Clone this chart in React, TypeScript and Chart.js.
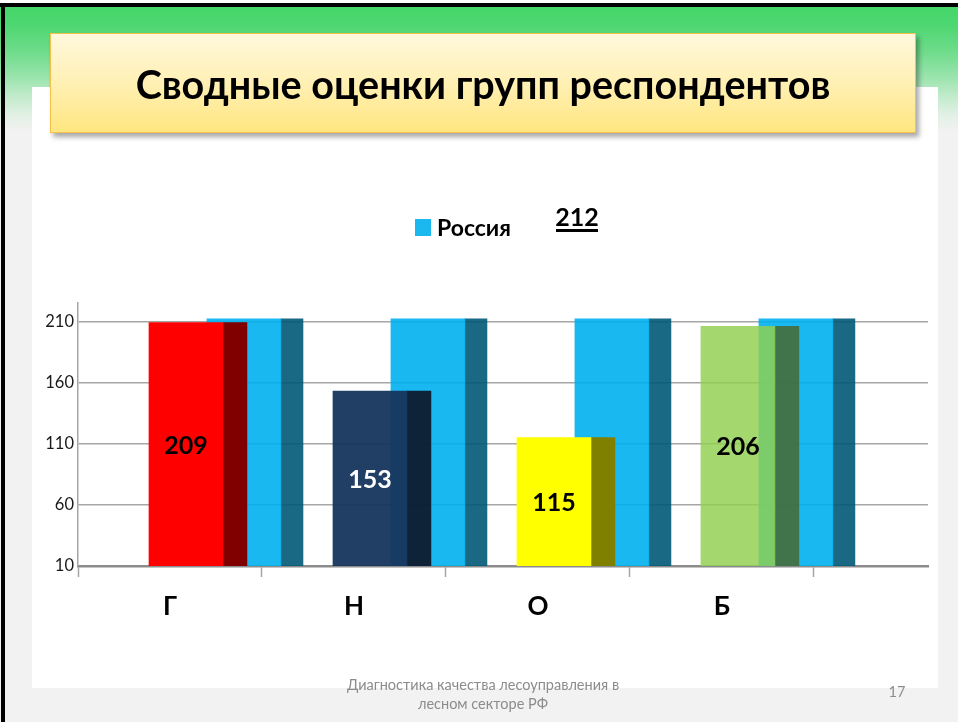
import { useEffect, useRef } from 'react';
import { Chart, registerables } from 'chart.js';

Chart.register(...registerables);

// ---------- data ----------
const categories = ['Г', 'Н', 'О', 'Б'];
const groupScores = [209, 153, 115, 206];
const russiaScores = [212, 212, 212, 212];
const russiaLabel = 'Россия';
const russiaTotal = 212;
const yTickValues = [10, 60, 110, 160, 210];

const titleText = 'Сводные оценки групп респондентов';
const footerLines = ['Диагностика качества лесоуправления в', 'лесном секторе РФ'];
const slideNumber = '17';

// ---------- styles ----------
const FONT = 'Lato, "Open Sans", sans-serif';
const faceColors = ['#ff0000', 'rgba(23,54,93,0.955)', '#ffff00', 'rgba(146,208,80,0.83)'];
const sideColors = ['#800000', 'rgba(14,27,47,0.955)', '#808000', 'rgba(73,102,40,0.83)'];
const labelColors = ['#000000', '#ffffff', '#000000', '#000000'];
const russiaFace = 'rgba(0,176,240,0.9)';
const russiaSide = 'rgba(0,89,120,0.9)';
const legendSwatch = '#1bb7ef';
const VALUE_FONT_SIZE = 25;

// bar geometry: offset from category centre in category units, thickness in px
const FRONT_FACE = { offset: 0.087, thickness: 74 };
const FRONT_SIDE = { offset: 0.353, thickness: 24 };
const BACK_FACE = { offset: 0.402, thickness: 74 };
const BACK_SIDE = { offset: 0.663, thickness: 22 };
const X_MIN = -0.5;
const X_MAX = 4.12;
const Y_MIN = 10;
const Y_MAX = 225;

const toPoints = (values: number[], offset: number) =>
  values.map((v, i) => ({ x: i + offset, y: v }));

const overlayPlugin = {
  id: 'overlay',
  afterDatasetsDraw(chart: any) {
    const ctx = chart.ctx as CanvasRenderingContext2D;
    const meta = chart.getDatasetMeta(0);
    const bottom = chart.chartArea.bottom;
    ctx.save();
    ctx.font = `bold ${VALUE_FONT_SIZE}px ${FONT}`;
    ctx.textAlign = 'center';
    ctx.textBaseline = 'alphabetic';
    meta.data.forEach((el: any, i: number) => {
      const { x, y, base } = el.getProps(['x', 'y', 'base'], true);
      const b = Math.min(base, bottom);
      ctx.fillStyle = labelColors[i];
      ctx.fillText(String(groupScores[i]), x, (y + b) / 2 + VALUE_FONT_SIZE * 0.37);
    });

    // legend (only the Россия series) and the Russia score
    const ds = chart.data.datasets[2];
    ctx.fillStyle = legendSwatch;
    ctx.fillRect(415, 219, 16, 17);
    ctx.fillStyle = '#000000';
    ctx.font = `bold 23px ${FONT}`;
    ctx.textAlign = 'left';
    ctx.textBaseline = 'alphabetic';
    ctx.fillText(ds.label, 437, 236);
    ctx.font = `bold 25px ${FONT}`;
    ctx.textAlign = 'center';
    ctx.fillText(String(russiaTotal), 577, 226);
    ctx.fillRect(556, 229, 42, 3);
    ctx.restore();
  },
};

function BarChart() {
  const ref = useRef<HTMLCanvasElement | null>(null);
  useEffect(() => {
    if (!ref.current) return;
    const chart = new Chart(ref.current, {
      type: 'bar',
      data: {
        datasets: [
          {
            label: 'Группы',
            data: toPoints(groupScores, FRONT_FACE.offset),
            backgroundColor: faceColors,
            barThickness: FRONT_FACE.thickness,
            order: 0,
          },
          {
            label: 'Группы (бок)',
            data: toPoints(groupScores, FRONT_SIDE.offset),
            backgroundColor: sideColors,
            barThickness: FRONT_SIDE.thickness,
            order: 1,
          },
          {
            label: russiaLabel,
            data: toPoints(russiaScores, BACK_FACE.offset),
            backgroundColor: russiaFace,
            barThickness: BACK_FACE.thickness,
            order: 2,
          },
          {
            label: russiaLabel + ' (бок)',
            data: toPoints(russiaScores, BACK_SIDE.offset),
            backgroundColor: russiaSide,
            barThickness: BACK_SIDE.thickness,
            order: 3,
          },
        ] as any,
      },
      options: {
        animation: false,
        responsive: false,
        grouped: false,
        layout: { padding: { top: 303, left: 0, right: 30, bottom: 96 } },
        plugins: {
          legend: { display: false },
          tooltip: { enabled: false },
          title: { display: false },
        },
        scales: {
          x: {
            type: 'linear',
            min: X_MIN,
            max: X_MAX,
            offset: false,
            afterBuildTicks: (scale: any) => {
              const t: { value: number }[] = [];
              for (let v = X_MIN; v <= categories.length - 0.5 + 1e-9; v += 0.5) t.push({ value: v });
              scale.ticks = t;
            },
            afterFit: (scale: any) => {
              scale.height = 60;
            },
            grid: {
              offset: false,
              drawOnChartArea: false,
              drawTicks: true,
              tickLength: 11,
              tickWidth: 1.5,
              tickColor: (ctx: any) =>
                ctx.tick && Math.abs(ctx.tick.value % 1) > 0.01 ? '#a6a6a6' : 'rgba(0,0,0,0)',
            },
            border: { display: true, color: '#8c8c8c', width: 2.5 },
            ticks: {
              autoSkip: false,
              maxRotation: 0,
              padding: 14,
              color: '#000000',
              font: { family: FONT, size: 26, weight: 'bold' },
              callback: (value: any) => {
                const v = Number(value);
                return Number.isInteger(v) && categories[v] !== undefined ? categories[v] : '';
              },
            },
          },
          y: {
            type: 'linear',
            min: Y_MIN,
            max: Y_MAX,
            afterBuildTicks: (scale: any) => {
              scale.ticks = yTickValues.map((value) => ({ value }));
            },
            afterFit: (scale: any) => {
              scale.width = 78;
            },
            grid: {
              color: '#a6a6a6',
              lineWidth: 1.5,
              drawTicks: false,
            },
            border: { display: true, color: '#a6a6a6', width: 1.5 },
            ticks: {
              padding: 4,
              color: '#1a1a1a',
              font: { family: FONT, size: 16.5 },
            },
          },
        },
      } as any,
      plugins: [overlayPlugin],
    });
    return () => chart.destroy();
  }, []);
  return (
    <canvas
      ref={ref}
      width={958}
      height={722}
      style={{ position: 'absolute', left: 0, top: 0, width: 958, height: 722 }}
    />
  );
}

export default function App() {
  return (
    <div
      style={{
        position: 'fixed',
        left: 0,
        top: 0,
        width: 958,
        height: 722,
        overflow: 'hidden',
        background: '#f2f2f2',
        fontFamily: FONT,
      }}
    >
      {/* top white strip */}
      <div style={{ position: 'absolute', left: 0, top: 0, width: 958, height: 3, background: '#ffffff' }} />
      {/* green gradient */}
      <div
        style={{
          position: 'absolute',
          left: 0,
          top: 7,
          width: 958,
          height: 125,
          background:
            'linear-gradient(to bottom, #45d669 0px, #4ed772 18px, #6fdc8b 45px, #9ae4ad 70px, #c3ebcc 90px, #e2f0e5 108px, #f2f2f2 125px)',
        }}
      />
      {/* black frame lines */}
      <div style={{ position: 'absolute', left: 0, top: 3, width: 958, height: 4, background: '#000000' }} />
      <div style={{ position: 'absolute', left: 1, top: 3, width: 4, height: 719, background: '#000000' }} />
      {/* white content area */}
      <div style={{ position: 'absolute', left: 32, top: 87, width: 906, height: 601, background: '#ffffff' }} />

      <BarChart />

      {/* title box */}
      <div
        style={{
          position: 'absolute',
          left: 50,
          top: 33,
          width: 866,
          height: 100,
          boxSizing: 'border-box',
          border: '1.5px solid #f4c24a',
          background: 'linear-gradient(to bottom, #fff8dd 0%, #fff0b4 50%, #ffe680 100%)',
          boxShadow: '3px 4px 5px rgba(0,0,0,0.35)',
          display: 'flex',
          alignItems: 'center',
          justifyContent: 'center',
          fontWeight: 'bold',
          fontSize: 39.5,
          color: '#000000',
        }}
      >
        {titleText}
      </div>

      {/* footer */}
      <div
        style={{
          position: 'absolute',
          left: 283,
          top: 675,
          width: 400,
          textAlign: 'center',
          fontSize: 14.5,
          lineHeight: '19px',
          color: '#8c8c8c',
        }}
      >
        {footerLines.map((l) => (
          <div key={l}>{l}</div>
        ))}
      </div>
      <div
        style={{
          position: 'absolute',
          left: 886,
          top: 682,
          width: 22,
          textAlign: 'center',
          fontSize: 14.5,
          lineHeight: '19px',
          color: '#8c8c8c',
        }}
      >
        {slideNumber}
      </div>
    </div>
  );
}
